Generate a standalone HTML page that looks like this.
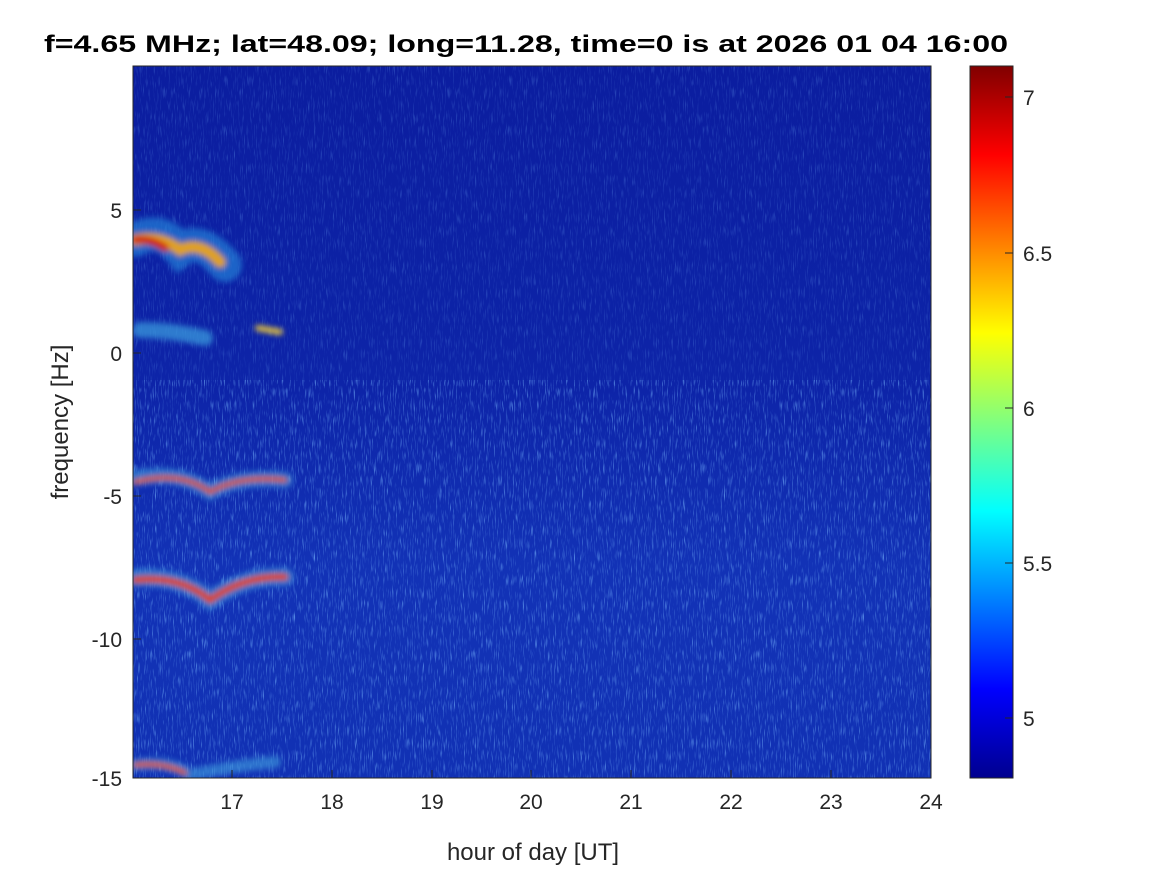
<!DOCTYPE html>
<html><head><meta charset="utf-8"><style>
body{margin:0;background:#fff;width:1167px;height:875px;overflow:hidden;font-family:"Liberation Sans",sans-serif}
</style></head><body>
<svg width="1167" height="875" xmlns="http://www.w3.org/2000/svg" font-family="Liberation Sans, sans-serif">
<defs>
<linearGradient id="bg" x1="0" y1="0" x2="0" y2="1">
<stop offset="0" stop-color="#0b1d9f"/><stop offset="0.45" stop-color="#0d24a8"/><stop offset="0.7" stop-color="#1232b6"/><stop offset="1" stop-color="#1131b4"/>
</linearGradient>
<linearGradient id="jet" x1="0" y1="1" x2="0" y2="0">
<stop offset="0" stop-color="#00008f"/><stop offset="0.125" stop-color="#0000ff"/><stop offset="0.375" stop-color="#00ffff"/><stop offset="0.625" stop-color="#ffff00"/><stop offset="0.875" stop-color="#ff0000"/><stop offset="1" stop-color="#800000"/>
</linearGradient>
<filter id="n" x="0" y="0" width="100%" height="100%">
<feTurbulence type="fractalNoise" baseFrequency="0.9 0.08" numOctaves="2" seed="3"/>
<feColorMatrix values="0 0 0 0 0.2  0 0 0 0 0.5  0 0 0 0 1  0 0 0 2.2 -1.2"/>
</filter>
<filter id="b"><feGaussianBlur stdDeviation="3"/></filter>
<clipPath id="c"><rect x="133" y="66" width="798" height="712"/></clipPath>
</defs>
<rect x="133" y="66" width="798" height="712" fill="url(#bg)"/>
<g clip-path="url(#c)">
<rect x="133" y="380" width="798" height="398" filter="url(#n)" opacity="0.85"/>
<rect x="133" y="66" width="798" height="320" filter="url(#n)" opacity="0.4"/>
<g fill="none" stroke-linecap="round" filter="url(#b)">
<path d="M135 240 Q160 225 180 250 Q200 235 225 265" stroke="#2a8fe0" stroke-width="34" opacity="0.6"/>
<path d="M135 240 Q160 235 180 250 Q200 240 220 262" stroke="#e0a020" stroke-width="12"/>
<path d="M135 240 Q150 238 165 248" stroke="#d02010" stroke-width="8"/>
<path d="M140 330 Q170 330 205 338" stroke="#3aa0e0" stroke-width="16" opacity="0.7"/>
<path d="M258 328 L280 332" stroke="#e0c040" stroke-width="6"/>
<path d="M135 478 Q180 470 210 492 Q240 475 285 480" stroke="#40a0e0" stroke-width="16" opacity="0.6"/>
<path d="M135 482 Q180 470 210 492 Q240 475 285 480" stroke="#e05010" stroke-width="5"/>
<path d="M135 578 Q180 575 210 600 Q245 575 285 577" stroke="#40a0e0" stroke-width="18" opacity="0.6"/>
<path d="M135 580 Q180 575 210 600 Q245 575 285 577" stroke="#e04010" stroke-width="7"/>
<path d="M135 765 Q170 760 190 775 Q240 765 275 762" stroke="#40a0e0" stroke-width="12" opacity="0.6"/>
<path d="M135 765 Q165 762 185 773" stroke="#e05010" stroke-width="5"/>
</g>
</g>
<rect x="133" y="66" width="798" height="712" fill="none" stroke="#262626" stroke-width="1"/>
<g font-size="21" fill="#262626" text-anchor="middle">
<text x="232" y="809">17</text><text x="332" y="809">18</text><text x="432" y="809">19</text><text x="531" y="809">20</text><text x="631" y="809">21</text><text x="731" y="809">22</text><text x="831" y="809">23</text><text x="931" y="809">24</text>
</g>
<g font-size="21" fill="#262626" text-anchor="end">
<text x="122" y="218">5</text><text x="122" y="361">0</text><text x="122" y="504">-5</text><text x="122" y="647">-10</text><text x="122" y="786">-15</text>
</g>
<g stroke="#262626">
<line x1="232" y1="778" x2="232" y2="770"/><line x1="332" y1="778" x2="332" y2="770"/><line x1="432" y1="778" x2="432" y2="770"/><line x1="531" y1="778" x2="531" y2="770"/><line x1="631" y1="778" x2="631" y2="770"/><line x1="731" y1="778" x2="731" y2="770"/><line x1="831" y1="778" x2="831" y2="770"/>
<line x1="133" y1="210" x2="141" y2="210"/><line x1="133" y1="353" x2="141" y2="353"/><line x1="133" y1="496" x2="141" y2="496"/><line x1="133" y1="639" x2="141" y2="639"/>
</g>
<text x="533" y="860" font-size="24" fill="#262626" text-anchor="middle">hour of day [UT]</text>
<text transform="translate(68 422) rotate(-90)" font-size="24" fill="#262626" text-anchor="middle">frequency [Hz]</text>
<text x="526" y="52" font-size="24" font-weight="bold" fill="#000" text-anchor="middle" textLength="964" lengthAdjust="spacingAndGlyphs">f=4.65 MHz;  lat=48.09; long=11.28, time=0 is at 2026 01 04 16:00</text>
<rect x="970" y="66" width="43" height="712" fill="url(#jet)" stroke="#262626"/>
<g stroke="#262626">
<line x1="1005" y1="97" x2="1013" y2="97"/><line x1="1005" y1="253" x2="1013" y2="253"/><line x1="1005" y1="408" x2="1013" y2="408"/><line x1="1005" y1="563" x2="1013" y2="563"/><line x1="1005" y1="718" x2="1013" y2="718"/>
</g>
<g font-size="21" fill="#262626">
<text x="1023" y="105">7</text><text x="1023" y="261">6.5</text><text x="1023" y="416">6</text><text x="1023" y="571">5.5</text><text x="1023" y="726">5</text>
</g>
</svg>
</body></html>
